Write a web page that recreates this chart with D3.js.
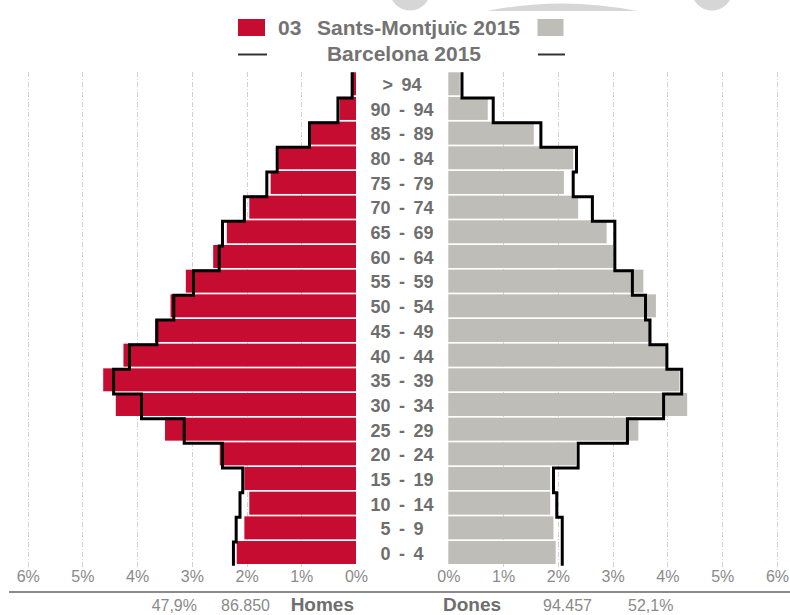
<!DOCTYPE html>
<html>
<head>
<meta charset="utf-8">
<script src="https://cdn.jsdelivr.net/npm/d3@7"></script>
<style>
    body { margin: 0; background: #fff; }
    svg text { font-family: "Liberation Sans", Arial, sans-serif; }
</style>
</head>
<body>
<div id="chart"></div>
<script>
// age groups, top to bottom
const ages = ["> 94", "90 - 94", "85 - 89", "80 - 84", "75 - 79", "70 - 74", "65 - 69", "60 - 64",
    "55 - 59", "50 - 54", "45 - 49", "40 - 44", "35 - 39", "30 - 34", "25 - 29", "20 - 24",
    "15 - 19", "10 - 14", "5 - 9", "0 - 4"];
// % of population, 03 Sants-Montjuïc 2015
const homesDistrict = [0.06, 0.30, 0.84, 1.42, 1.56, 1.95, 2.36, 2.61, 3.11, 3.39,
    3.67, 4.25, 4.62, 4.39, 3.49, 2.49, 2.04, 1.95, 2.04, 2.18];
const donesDistrict = [0.21, 0.72, 1.56, 2.28, 2.11, 2.37, 2.89, 3.01, 3.56, 3.79,
    3.71, 3.99, 4.22, 4.36, 3.47, 2.33, 1.86, 1.86, 1.92, 1.96];
// % of population, Barcelona 2015
const homesCity = [0.07, 0.33, 0.85, 1.44, 1.63, 2.04, 2.44, 2.50, 2.97, 3.33,
    3.64, 4.14, 4.43, 3.92, 3.14, 2.44, 2.07, 2.12, 2.19, 2.24];
const donesCity = [0.25, 0.82, 1.69, 2.34, 2.28, 2.63, 3.04, 3.04, 3.36, 3.60,
    3.68, 3.99, 4.26, 3.93, 3.27, 2.37, 1.92, 1.98, 2.08, 2.08];
const pctTicks = [0, 1, 2, 3, 4, 5, 6];
const homesSummary = ["47,9%", "86.850", "Homes"];
const donesSummary = ["Dones", "94.457", "52,1%"];

const red = "#c60c30", grey = "#bebdb7";
const width = 790, height = 615;

const svg = d3.select("#chart").append("svg")
    .attr("width", width)
    .attr("height", height);

// faint logo shapes cut off at the top
const deco = svg.append("g").attr("fill", "#d6d6d6");
deco.append("circle").attr("cx", 410).attr("cy", -10).attr("r", 20.5);
deco.append("circle").attr("cx", 712).attr("cy", -10).attr("r", 20.5);
deco.append("path").attr("d", "M487,11 Q562,-4 637,11 Z");

const y = d3.scaleBand().domain(ages).range([72.3, 565.7]);
const bw = y.bandwidth();
const xL = d3.scaleLinear().domain([0, 6]).range([356, 27.7]);
const xR = d3.scaleLinear().domain([0, 6]).range([448.3, 777]);

// grid
const grid = svg.append("g")
    .attr("stroke", "#d2d2d2")
    .attr("stroke-dasharray", "5,2,1,2");
[xL, xR].forEach(x => {
    grid.selectAll(null)
        .data(pctTicks.filter(d => d > 0))
        .enter().append("line")
        .attr("x1", d => Math.round(x(d)) + 0.5)
        .attr("x2", d => Math.round(x(d)) + 0.5)
        .attr("y1", 72)
        .attr("y2", 569);
});

// bars
svg.append("g").selectAll("rect")
    .data(homesDistrict)
    .enter().append("rect")
    .attr("x", d => xL(d))
    .attr("y", (d, i) => y(ages[i]))
    .attr("width", d => xL(0) - xL(d))
    .attr("height", bw - 1.7)
    .attr("fill", red);

svg.append("g").selectAll("rect")
    .data(donesDistrict)
    .enter().append("rect")
    .attr("x", xR(0))
    .attr("y", (d, i) => y(ages[i]))
    .attr("width", d => xR(d) - xR(0))
    .attr("height", bw - 1.7)
    .attr("fill", grey);

// city profile as a step line
function stepPoints(values, x) {
    const pts = [];
    values.forEach((v, i) => {
        const top = i === 0 ? y(ages[i]) : y(ages[i]) + 1;
        const bottom = i === values.length - 1 ? y(ages[i]) + bw : y(ages[i]) + bw + 1;
        pts.push([x(v), top], [x(v), bottom]);
    });
    return pts;
}
const line = d3.line();
[[homesCity, xL], [donesCity, xR]].forEach(([vals, x]) => {
    svg.append("path")
        .attr("d", line(stepPoints(vals, x)))
        .attr("fill", "none")
        .attr("stroke", "#000")
        .attr("stroke-width", 3)
        .attr("stroke-linejoin", "miter");
});

// age labels
svg.append("g").selectAll("text")
    .data(ages)
    .enter().append("text")
    .attr("x", 402)
    .attr("y", d => y(d) + bw / 2 + 6.5)
    .attr("text-anchor", "middle")
    .attr("font-size", 18)
    .attr("font-weight", "bold")
    .attr("word-spacing", 3.5)
    .attr("fill", "#6e6e6e")
    .text(d => d);

// percentage axes
[xL, xR].forEach(x => {
    const ax = svg.append("g")
        .attr("transform", "translate(0,571)")
        .call(d3.axisBottom(x).tickValues(pctTicks).tickSize(0).tickPadding(0)
            .tickFormat(d => d + "%"));
    ax.select(".domain").remove();
    ax.selectAll("text")
        .attr("font-family", "'Liberation Sans', Arial, sans-serif")
        .attr("font-size", 16)
        .attr("fill", "#8a8a8a");
});

svg.append("line")
    .attr("x1", 9).attr("x2", 790)
    .attr("y1", 592).attr("y2", 592)
    .attr("stroke", "#8c8c8c")
    .attr("stroke-width", 2);

// totals under the axis
const foot = svg.append("g");
foot.append("text").attr("x", 197).attr("y", 611).attr("text-anchor", "end")
    .attr("font-size", 16).attr("fill", "#8a8a8a").text(homesSummary[0]);
foot.append("text").attr("x", 270).attr("y", 611).attr("text-anchor", "end")
    .attr("font-size", 16).attr("fill", "#8a8a8a").text(homesSummary[1]);
foot.append("text").attr("x", 354).attr("y", 611).attr("text-anchor", "end")
    .attr("font-size", 19).attr("font-weight", "bold").attr("fill", "#6e6e6e").text(homesSummary[2]);
foot.append("text").attr("x", 443).attr("y", 611)
    .attr("font-size", 19).attr("font-weight", "bold").attr("fill", "#6e6e6e").text(donesSummary[0]);
foot.append("text").attr("x", 543).attr("y", 611)
    .attr("font-size", 16).attr("fill", "#8a8a8a").text(donesSummary[1]);
foot.append("text").attr("x", 628).attr("y", 611)
    .attr("font-size", 16).attr("fill", "#8a8a8a").text(donesSummary[2]);

// legend
const legend = svg.append("g");
legend.append("rect").attr("x", 238).attr("y", 19).attr("width", 27).attr("height", 17).attr("fill", red);
legend.append("rect").attr("x", 537.5).attr("y", 19).attr("width", 26).attr("height", 17).attr("fill", grey);
legend.append("text").attr("x", 278).attr("y", 35)
    .attr("font-size", 21).attr("font-weight", "bold").attr("fill", "#737373").text("03");
legend.append("text").attr("x", 317).attr("y", 35)
    .attr("font-size", 21).attr("font-weight", "bold").attr("fill", "#737373").text("Sants-Montjuïc 2015");
legend.append("line").attr("x1", 238).attr("x2", 267).attr("y1", 54.5).attr("y2", 54.5)
    .attr("stroke", "#333").attr("stroke-width", 2);
legend.append("line").attr("x1", 538).attr("x2", 565).attr("y1", 54.5).attr("y2", 54.5)
    .attr("stroke", "#333").attr("stroke-width", 2);
legend.append("text").attr("x", 404).attr("y", 61).attr("text-anchor", "middle")
    .attr("font-size", 21).attr("font-weight", "bold").attr("fill", "#737373").text("Barcelona 2015");
</script>
</body>
</html>
